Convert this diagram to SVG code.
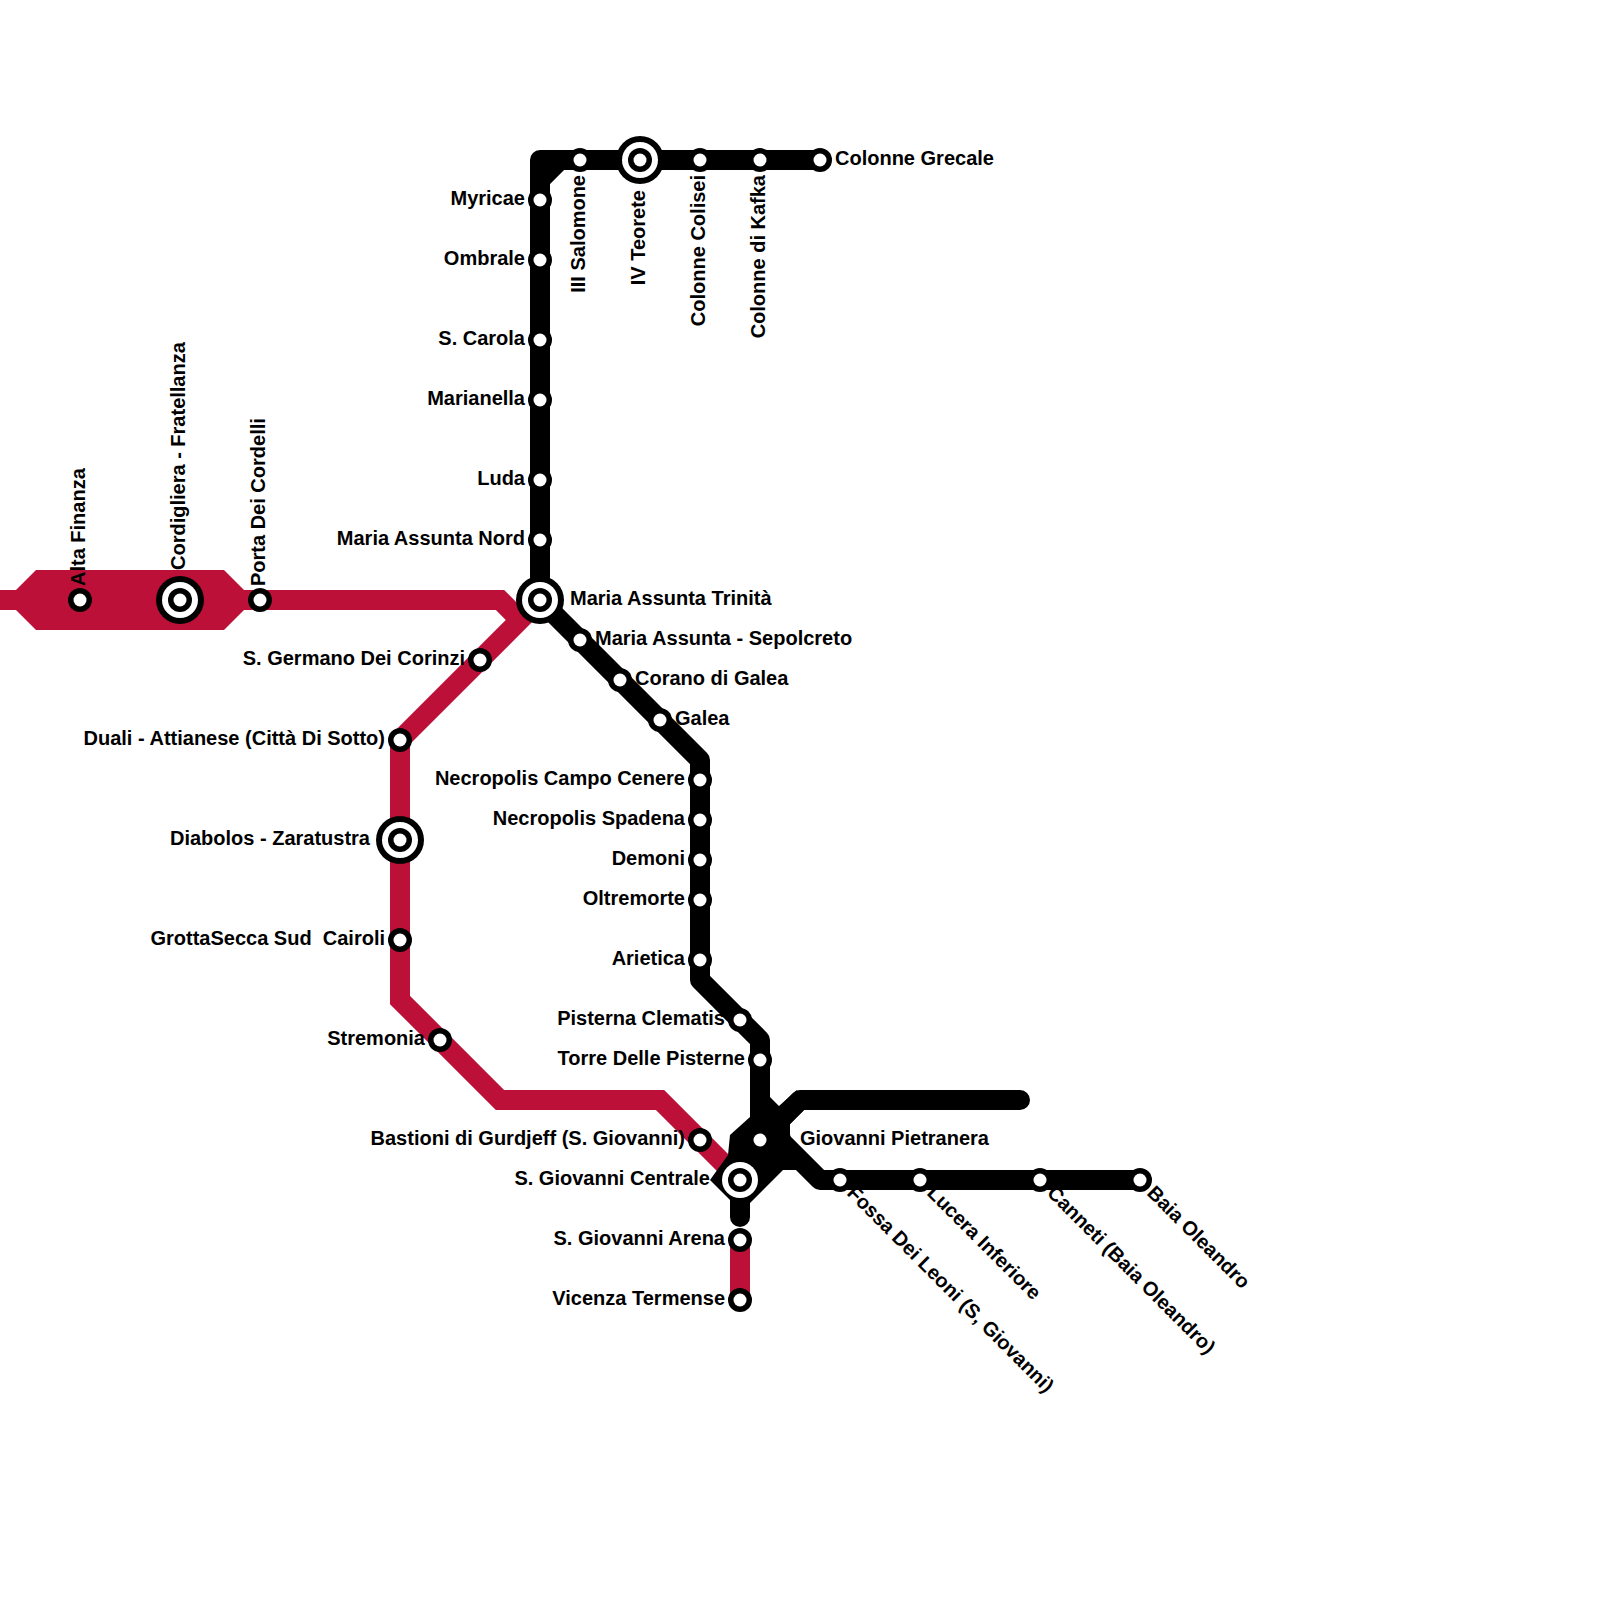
<svg xmlns="http://www.w3.org/2000/svg" width="1600" height="1600" viewBox="0 0 1600 1600">
<style>
.r{fill:none;stroke:#bd1038;stroke-width:20}
.k{fill:none;stroke:#000;stroke-width:20;stroke-linejoin:round;stroke-linecap:round}
.o{fill:#000}.w{fill:#fff}
text{font-family:"Liberation Sans",Arial,sans-serif;font-weight:700;font-size:20px;fill:#000;white-space:pre}
.e{text-anchor:end}
</style>
<defs>
<g id="s"><circle class="o" r="12"/><circle class="w" r="6.5"/></g>
<g id="b"><circle class="o" r="24"/><circle class="w" r="18"/><circle class="o" r="12"/><circle class="w" r="6.5"/></g>
</defs>
<g id="connectors">
<polygon fill="#bd1038" points="16,590 36,570 224,570 244,590 244,610 224,630 36,630 16,610"/>
<path class="r" d="M0,600H500L520,620"/>
<path class="r" d="M540,600L400,740V1000L500,1100H660L740,1180"/>
<path class="r" d="M740,1240V1300"/>
<path class="k" d="M540,600V160H820M540,180L560,160"/>
<path class="k" d="M540,600L700,760V980L760,1040V1140"/>
<path class="k" d="M740,1180V1217"/>
<path class="k" d="M1020,1100H800L780,1120"/>
<path class="k" d="M1140,1180H820L780,1140"/>
<polygon class="o" points="770,1097 779,1106 797,1090 804,1110 790,1124 790,1134 796,1170 783,1170 750,1203 730,1200 710,1180 728,1155 730,1135 750,1117"/>
</g>
<g id="n1"><use href="#s" x="80" y="600"/><text transform="translate(85,586) rotate(-90)">Alta Finanza</text></g>
<g id="n2"><use href="#b" x="180" y="600"/><text transform="translate(185,570) rotate(-90)">Cordigliera - Fratellanza</text></g>
<g id="n3"><use href="#s" x="260" y="600"/><text transform="translate(265,586) rotate(-90)">Porta Dei Cordelli</text></g>
<g id="n4"><use href="#s" x="540" y="200"/><text class="e" x="525" y="205">Myricae</text></g>
<g id="n5"><use href="#s" x="540" y="260"/><text class="e" x="525" y="265">Ombrale</text></g>
<g id="n6"><use href="#s" x="540" y="340"/><text class="e" x="525" y="345">S. Carola</text></g>
<g id="n7"><use href="#s" x="540" y="400"/><text class="e" x="525" y="405">Marianella</text></g>
<g id="n8"><use href="#s" x="540" y="480"/><text class="e" x="525" y="485">Luda</text></g>
<g id="n9"><use href="#s" x="540" y="540"/><text class="e" x="525" y="545">Maria Assunta Nord</text></g>
<g id="n10"><use href="#b" x="540" y="600"/><text x="570" y="605">Maria Assunta Trinità</text></g>
<g id="n11"><use href="#s" x="580" y="160"/><text class="e" transform="translate(585,175) rotate(-90)">III Salomone</text></g>
<g id="n12"><use href="#b" x="640" y="160"/><text class="e" transform="translate(645,190) rotate(-90)">IV Teorete</text></g>
<g id="n13"><use href="#s" x="700" y="160"/><text class="e" transform="translate(705,175) rotate(-90)">Colonne Colisei</text></g>
<g id="n14"><use href="#s" x="760" y="160"/><text class="e" transform="translate(765,175) rotate(-90)">Colonne di Kafka</text></g>
<g id="n15"><use href="#s" x="820" y="160"/><text x="835" y="165">Colonne Grecale</text></g>
<g id="n16"><use href="#s" x="580" y="640"/><text x="595" y="645">Maria Assunta - Sepolcreto</text></g>
<g id="n17"><use href="#s" x="620" y="680"/><text x="635" y="685">Corano di Galea</text></g>
<g id="n18"><use href="#s" x="660" y="720"/><text x="675" y="725">Galea</text></g>
<g id="n19"><use href="#s" x="700" y="780"/><text class="e" x="685" y="785">Necropolis Campo Cenere</text></g>
<g id="n20"><use href="#s" x="700" y="820"/><text class="e" x="685" y="825">Necropolis Spadena</text></g>
<g id="n21"><use href="#s" x="700" y="860"/><text class="e" x="685" y="865">Demoni</text></g>
<g id="n22"><use href="#s" x="700" y="900"/><text class="e" x="685" y="905">Oltremorte</text></g>
<g id="n23"><use href="#s" x="700" y="960"/><text class="e" x="685" y="965">Arietica</text></g>
<g id="n24"><use href="#s" x="740" y="1020"/><text class="e" x="725" y="1025">Pisterna Clematis</text></g>
<g id="n25"><use href="#s" x="760" y="1060"/><text class="e" x="745" y="1065">Torre Delle Pisterne</text></g>
<g id="n26"><circle class="w" cx="760" cy="1140" r="6.5"/><text x="800" y="1145">Giovanni Pietranera</text></g>
<g id="n27"><circle class="w" cx="740" cy="1180" r="18"/><circle class="o" cx="740" cy="1180" r="12"/><circle class="w" cx="740" cy="1180" r="6.5"/><text class="e" x="710" y="1185">S. Giovanni Centrale</text></g>
<g id="n28"><use href="#s" x="740" y="1240"/><text class="e" x="725" y="1245">S. Giovanni Arena</text></g>
<g id="n29"><use href="#s" x="740" y="1300"/><text class="e" x="725" y="1305">Vicenza Termense</text></g>
<g id="n30"><use href="#s" x="840" y="1180"/><text transform="translate(846,1194) rotate(45)">Fossa Dei Leoni (S, Giovanni)</text></g>
<g id="n31"><use href="#s" x="920" y="1180"/><text transform="translate(926,1194) rotate(45)">Lucera Inferiore</text></g>
<g id="n32"><use href="#s" x="1040" y="1180"/><text transform="translate(1046,1194) rotate(45)">Canneti (Baia Oleandro)</text></g>
<g id="n33"><use href="#s" x="1140" y="1180"/><text transform="translate(1146,1194) rotate(45)">Baia Oleandro</text></g>
<g id="n34"><use href="#s" x="480" y="660"/><text class="e" x="465" y="665">S. Germano Dei Corinzi</text></g>
<g id="n35"><use href="#s" x="400" y="740"/><text class="e" x="385" y="745">Duali - Attianese (Città Di Sotto)</text></g>
<g id="n36"><use href="#b" x="400" y="840"/><text class="e" x="370" y="845">Diabolos - Zaratustra</text></g>
<g id="n37"><use href="#s" x="400" y="940"/><text class="e" x="385" y="945">GrottaSecca Sud  Cairoli</text></g>
<g id="n38"><use href="#s" x="440" y="1040"/><text class="e" x="425" y="1045">Stremonia</text></g>
<g id="n39"><use href="#s" x="700" y="1140"/><text class="e" x="685" y="1145">Bastioni di Gurdjeff (S. Giovanni)</text></g>
</svg>
